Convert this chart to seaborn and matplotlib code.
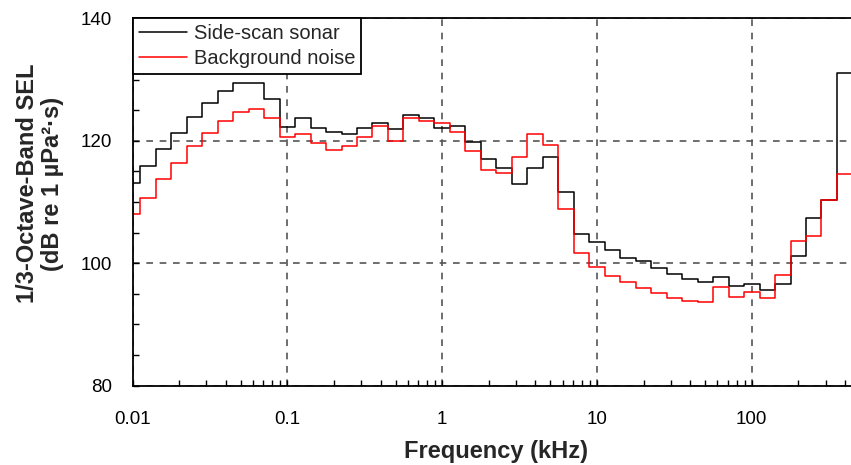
import numpy as np
import pandas as pd
import matplotlib
matplotlib.use("Agg")
import matplotlib.pyplot as plt
import matplotlib.ticker as mticker
import seaborn as sns

# ================================
# Data: 1/3-octave band centre frequencies (kHz) and band SEL (dB)
# ================================
band_centres = [0.01, 0.0125, 0.016, 0.02, 0.025, 0.0315, 0.04, 0.05, 0.063, 0.08,
                0.1, 0.125, 0.16, 0.2, 0.25, 0.315, 0.4, 0.5, 0.63, 0.8,
                1, 1.25, 1.6, 2, 2.5, 3.15, 4, 5, 6.3, 8,
                10, 12.5, 16, 20, 25, 31.5, 40, 50, 63, 80,
                100, 125, 160, 200, 250, 315, 400]

sonar = [113.1, 115.9, 118.7, 121.3, 123.9, 126.2, 128.2, 129.5, 129.5, 126.9,
         122.3, 123.8, 122.1, 121.5, 121.1, 122.1, 122.9, 121.9, 124.2, 123.7,
         122.1, 122.5, 119.8, 117.0, 115.5, 113.0, 115.5, 117.4, 111.7, 104.8,
         103.5, 102.1, 100.9, 100.3, 99.3, 98.2, 97.5, 96.9, 97.7, 96.3,
         96.6, 95.6, 96.6, 101.2, 107.4, 110.3, 131.1]

background = [108.1, 110.7, 113.8, 116.4, 119.2, 121.3, 123.3, 124.7, 125.2, 123.7,
              120.6, 121.1, 119.7, 118.5, 119.1, 120.7, 122.4, 119.9, 123.7, 123.2,
              122.9, 121.5, 118.3, 115.3, 114.8, 117.4, 121.1, 119.3, 108.9, 101.7,
              99.4, 98.0, 96.9, 96.0, 95.2, 94.4, 93.9, 93.6, 96.1, 94.5,
              95.3, 94.4, 98.1, 103.7, 104.4, 110.4, 114.6]

series_names = ["Side-scan sonar", "Background noise"]
colors = ["black", "red"]

# ================================
# Build step data (lower band edges + final upper edge)
# ================================
exact = 10 ** np.round(np.log10(band_centres), 1)
edges = list(exact * 10 ** -0.05) + [exact[-1] * 10 ** 0.05]

rows = []
for name, vals in zip(series_names, [sonar, background]):
    for x, y in zip(edges, list(vals) + [vals[-1]]):
        rows.append({"freq": x, "sel": y, "series": name})
df = pd.DataFrame(rows)

# ================================
# Plot
# ================================
sns.set_style("ticks")
plt.rcParams["font.family"] = ["Liberation Sans", "DejaVu Sans"]

fig = plt.figure(figsize=(8.51, 4.65), dpi=100)
ax = fig.add_axes([0.1557, 0.1705, 0.8549, 0.790])

sns.lineplot(data=df, x="freq", y="sel", hue="series", hue_order=series_names,
             palette=colors, drawstyle="steps-post", linewidth=1.1,
             estimator=None, sort=False, ax=ax)

ax.set_xscale("log")
ax.set_xlim(0.01, 500)
ax.set_ylim(80, 140)

ax.xaxis.set_major_locator(mticker.FixedLocator([0.01, 0.1, 1, 10, 100]))
ax.xaxis.set_major_formatter(mticker.FixedFormatter(["0.01", "0.1", "1", "10", "100"]))
ax.xaxis.set_minor_locator(mticker.LogLocator(base=10, subs=np.arange(2, 10)))
ax.xaxis.set_minor_formatter(mticker.NullFormatter())
ax.yaxis.set_major_locator(mticker.MultipleLocator(20))
ax.yaxis.set_minor_locator(mticker.MultipleLocator(5))

ax.tick_params(which="both", direction="in", colors="black", labelsize=13.5, width=1)
ax.tick_params(which="major", length=4, pad=15)
ax.tick_params(which="minor", length=4)
ax.tick_params(axis="x", which="major", pad=18)

ax.grid(True, which="major", linestyle=(0, (4, 4)), color="#555555", linewidth=1.2)

for side in ["left", "bottom", "top", "right"]:
    ax.spines[side].set_color("black")
    ax.spines[side].set_linewidth(1.3)

ax.set_xlabel("Frequency (kHz)", fontsize=17, fontweight="bold", labelpad=9)
ax.set_ylabel("1/3-Octave-Band SEL\n(dB re 1 µPa²·s)", fontsize=17,
              fontweight="bold", linespacing=1.12)
ax.yaxis.set_label_coords(-0.094, 0.55)

handles, labels = ax.get_legend_handles_labels()
leg = ax.legend(handles, labels, loc="upper left", borderaxespad=0, fontsize=14.5,
                frameon=True, fancybox=False, framealpha=1, edgecolor="black",
                handlelength=2.4, handletextpad=0.35, labelspacing=0.3,
                borderpad=0.3)
leg.get_frame().set_linewidth(1.3)

fig.savefig("out.png", dpi=100)
